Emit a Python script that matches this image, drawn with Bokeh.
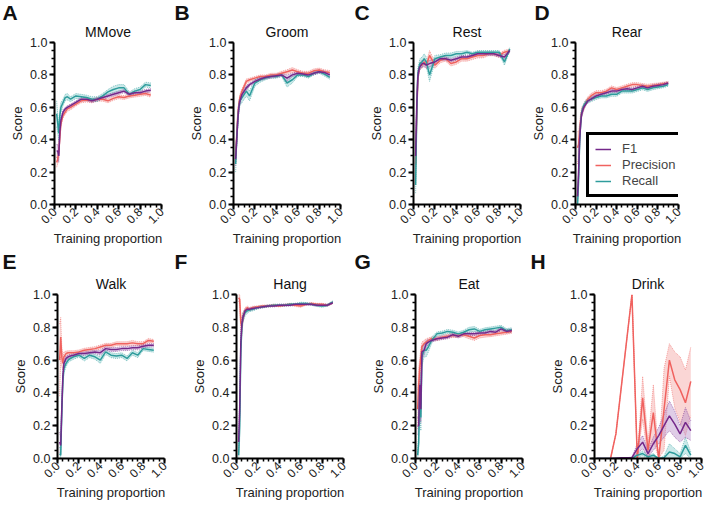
import math
from bokeh.plotting import figure
from bokeh.layouts import row, column
from bokeh.models import Title, Legend, LegendItem, Range1d, FixedTicker, PrintfTickFormatter
from bokeh.embed import file_html
from bokeh.resources import INLINE

FONT = "Liberation Sans"
C_F1, C_PR, C_RC = "#74288A", "#F0625F", "#2E9C9C"
B_F1, B_PR, B_RC = "#B990CA", "#F5A3A1", "#8CCFCF"

MAJOR_TICKS = [0.0, 0.2, 0.4, 0.6, 0.8, 1.0]
MINOR_TICKS = [0.0, 0.05, 0.1, 0.15, 0.2, 0.25, 0.3, 0.35, 0.4, 0.45, 0.5,
               0.55, 0.6, 0.65, 0.7, 0.75, 0.8, 0.85, 0.9, 0.95, 1.0]

X = [0.02, 0.03, 0.04, 0.05, 0.06, 0.08, 0.10, 0.12, 0.15, 0.20, 0.25, 0.30,
     0.35, 0.40, 0.45, 0.50, 0.55, 0.60, 0.65, 0.70, 0.75, 0.80, 0.85, 0.90]

MMOVE_F1 = [0.33, 0.33, 0.30, 0.45, 0.52, 0.57, 0.59, 0.60, 0.61, 0.63, 0.65, 0.65, 0.64, 0.65, 0.66, 0.67, 0.68, 0.69, 0.70, 0.68, 0.69, 0.69, 0.70, 0.705]
MMOVE_F1_E = [0.04, 0.04, 0.04, 0.03, 0.02, 0.015, 0.01, 0.01, 0.01, 0.01, 0.01, 0.01, 0.01, 0.01, 0.01, 0.01, 0.01, 0.01, 0.01, 0.01, 0.01, 0.01, 0.01, 0.01]
MMOVE_PR = [0.26, 0.28, 0.32, 0.42, 0.50, 0.55, 0.57, 0.59, 0.60, 0.62, 0.64, 0.645, 0.64, 0.65, 0.65, 0.64, 0.655, 0.665, 0.66, 0.67, 0.675, 0.68, 0.685, 0.675]
MMOVE_PR_E = [0.03, 0.03, 0.03, 0.03, 0.02, 0.015, 0.015, 0.015, 0.015, 0.012, 0.012, 0.012, 0.012, 0.012, 0.012, 0.012, 0.012, 0.012, 0.012, 0.012, 0.012, 0.012, 0.012, 0.012]
MMOVE_RC = [0.56, 0.50, 0.44, 0.55, 0.60, 0.63, 0.66, 0.665, 0.65, 0.67, 0.665, 0.66, 0.65, 0.65, 0.67, 0.695, 0.71, 0.72, 0.72, 0.68, 0.70, 0.71, 0.74, 0.735]
MMOVE_RC_E = [0.08, 0.06, 0.05, 0.04, 0.03, 0.02, 0.02, 0.02, 0.015, 0.015, 0.015, 0.015, 0.015, 0.015, 0.015, 0.015, 0.02, 0.02, 0.02, 0.015, 0.015, 0.015, 0.015, 0.015]

GROOM_F1 = [0.28, 0.40, 0.52, 0.60, 0.64, 0.68, 0.70, 0.72, 0.74, 0.76, 0.775, 0.785, 0.79, 0.795, 0.80, 0.78, 0.80, 0.81, 0.805, 0.80, 0.81, 0.82, 0.815, 0.80]
GROOM_F1_E = [0.04, 0.03, 0.03, 0.02, 0.02, 0.015, 0.015, 0.015, 0.01, 0.01, 0.01, 0.01, 0.01, 0.01, 0.01, 0.02, 0.01, 0.01, 0.01, 0.01, 0.01, 0.01, 0.01, 0.01]
GROOM_PR = [0.30, 0.42, 0.55, 0.62, 0.66, 0.70, 0.73, 0.76, 0.77, 0.78, 0.79, 0.79, 0.80, 0.80, 0.81, 0.82, 0.83, 0.82, 0.81, 0.81, 0.825, 0.83, 0.82, 0.815]
GROOM_PR_E = [0.04, 0.03, 0.03, 0.02, 0.02, 0.015, 0.015, 0.015, 0.01, 0.01, 0.01, 0.01, 0.01, 0.01, 0.012, 0.012, 0.015, 0.012, 0.012, 0.012, 0.012, 0.012, 0.012, 0.012]
GROOM_RC = [0.25, 0.40, 0.52, 0.60, 0.64, 0.66, 0.68, 0.70, 0.67, 0.75, 0.77, 0.78, 0.79, 0.79, 0.80, 0.75, 0.77, 0.80, 0.80, 0.79, 0.81, 0.82, 0.805, 0.785]
GROOM_RC_E = [0.05, 0.04, 0.04, 0.03, 0.03, 0.03, 0.03, 0.03, 0.03, 0.02, 0.015, 0.01, 0.01, 0.01, 0.01, 0.025, 0.02, 0.01, 0.01, 0.01, 0.01, 0.01, 0.012, 0.012]

REST_F1 = [0.30, 0.60, 0.78, 0.83, 0.85, 0.87, 0.87, 0.86, 0.87, 0.88, 0.90, 0.90, 0.89, 0.90, 0.91, 0.91, 0.92, 0.93, 0.93, 0.93, 0.93, 0.92, 0.91, 0.95]
REST_F1_E = [0.06, 0.05, 0.03, 0.02, 0.02, 0.02, 0.02, 0.02, 0.02, 0.015, 0.01, 0.01, 0.01, 0.01, 0.01, 0.01, 0.01, 0.01, 0.01, 0.01, 0.01, 0.01, 0.015, 0.01]
REST_PR = [0.25, 0.55, 0.76, 0.83, 0.86, 0.86, 0.88, 0.86, 0.92, 0.86, 0.89, 0.90, 0.87, 0.88, 0.90, 0.90, 0.91, 0.92, 0.92, 0.93, 0.93, 0.92, 0.94, 0.95]
REST_PR_E = [0.06, 0.05, 0.03, 0.02, 0.02, 0.02, 0.02, 0.02, 0.03, 0.02, 0.015, 0.015, 0.015, 0.015, 0.015, 0.015, 0.015, 0.015, 0.015, 0.012, 0.012, 0.012, 0.012, 0.01]
REST_RC = [0.12, 0.55, 0.80, 0.84, 0.87, 0.88, 0.90, 0.88, 0.80, 0.90, 0.91, 0.92, 0.92, 0.93, 0.93, 0.94, 0.93, 0.94, 0.94, 0.94, 0.94, 0.94, 0.88, 0.96]
REST_RC_E = [0.05, 0.06, 0.04, 0.03, 0.03, 0.03, 0.03, 0.03, 0.04, 0.02, 0.015, 0.015, 0.015, 0.015, 0.015, 0.01, 0.01, 0.01, 0.01, 0.01, 0.01, 0.01, 0.02, 0.01]

REAR_F1 = [0.05, 0.20, 0.40, 0.50, 0.56, 0.60, 0.62, 0.64, 0.65, 0.67, 0.68, 0.69, 0.70, 0.70, 0.71, 0.715, 0.71, 0.72, 0.73, 0.72, 0.73, 0.735, 0.74, 0.75]
REAR_F1_E = [0.03, 0.04, 0.04, 0.03, 0.02, 0.015, 0.01, 0.01, 0.01, 0.01, 0.01, 0.01, 0.01, 0.01, 0.01, 0.01, 0.01, 0.01, 0.01, 0.01, 0.01, 0.01, 0.01, 0.008]
REAR_PR = [0.35, 0.37, 0.45, 0.52, 0.57, 0.60, 0.63, 0.65, 0.67, 0.69, 0.69, 0.70, 0.72, 0.71, 0.72, 0.73, 0.74, 0.74, 0.735, 0.73, 0.735, 0.74, 0.745, 0.75]
REAR_PR_E = [0.10, 0.08, 0.05, 0.04, 0.03, 0.02, 0.015, 0.015, 0.015, 0.012, 0.012, 0.012, 0.012, 0.012, 0.012, 0.012, 0.012, 0.012, 0.012, 0.012, 0.012, 0.01, 0.01, 0.01]
REAR_RC = [0.00, 0.15, 0.38, 0.50, 0.57, 0.61, 0.63, 0.64, 0.65, 0.66, 0.67, 0.67, 0.68, 0.68, 0.70, 0.70, 0.70, 0.71, 0.72, 0.71, 0.72, 0.725, 0.73, 0.74]
REAR_RC_E = [0.02, 0.05, 0.05, 0.03, 0.02, 0.015, 0.015, 0.015, 0.015, 0.012, 0.012, 0.012, 0.012, 0.012, 0.012, 0.012, 0.012, 0.012, 0.012, 0.012, 0.012, 0.01, 0.01, 0.01]

WALK_F1 = [0.10, 0.08, 0.30, 0.50, 0.58, 0.61, 0.62, 0.625, 0.63, 0.64, 0.64, 0.645, 0.65, 0.645, 0.67, 0.665, 0.665, 0.67, 0.67, 0.675, 0.675, 0.685, 0.69, 0.69]
WALK_F1_E = [0.06, 0.05, 0.05, 0.03, 0.02, 0.015, 0.01, 0.01, 0.01, 0.01, 0.01, 0.01, 0.01, 0.015, 0.012, 0.012, 0.012, 0.012, 0.012, 0.012, 0.012, 0.01, 0.01, 0.01]
WALK_PR = [0.60, 0.74, 0.62, 0.58, 0.62, 0.64, 0.645, 0.645, 0.645, 0.65, 0.66, 0.665, 0.67, 0.68, 0.69, 0.69, 0.70, 0.70, 0.70, 0.705, 0.70, 0.70, 0.72, 0.715]
WALK_PR_E = [0.22, 0.12, 0.06, 0.04, 0.03, 0.015, 0.012, 0.012, 0.012, 0.012, 0.012, 0.012, 0.012, 0.012, 0.012, 0.012, 0.012, 0.012, 0.012, 0.015, 0.012, 0.012, 0.012, 0.01]
WALK_RC = [0.03, 0.02, 0.28, 0.47, 0.55, 0.58, 0.60, 0.61, 0.62, 0.63, 0.61, 0.63, 0.62, 0.60, 0.65, 0.63, 0.625, 0.63, 0.61, 0.645, 0.63, 0.67, 0.665, 0.66]
WALK_RC_E = [0.04, 0.03, 0.05, 0.04, 0.03, 0.02, 0.015, 0.015, 0.015, 0.012, 0.015, 0.015, 0.015, 0.02, 0.015, 0.015, 0.015, 0.015, 0.015, 0.015, 0.015, 0.012, 0.012, 0.012]

HANG_F1 = [0.10, 0.30, 0.70, 0.82, 0.86, 0.90, 0.91, 0.91, 0.915, 0.92, 0.925, 0.93, 0.93, 0.935, 0.935, 0.935, 0.94, 0.94, 0.94, 0.94, 0.935, 0.935, 0.935, 0.95]
HANG_F1_E = [0.05, 0.08, 0.06, 0.03, 0.02, 0.01, 0.01, 0.008, 0.008, 0.006, 0.006, 0.006, 0.006, 0.006, 0.006, 0.006, 0.006, 0.006, 0.006, 0.006, 0.006, 0.006, 0.006, 0.006]
HANG_PR = [0.98, 0.97, 0.83, 0.80, 0.86, 0.90, 0.92, 0.91, 0.92, 0.925, 0.93, 0.93, 0.935, 0.93, 0.935, 0.94, 0.935, 0.93, 0.94, 0.945, 0.94, 0.94, 0.935, 0.95]
HANG_PR_E = [0.02, 0.03, 0.05, 0.05, 0.03, 0.02, 0.01, 0.01, 0.008, 0.006, 0.006, 0.006, 0.006, 0.006, 0.006, 0.006, 0.008, 0.008, 0.006, 0.006, 0.006, 0.006, 0.006, 0.006]
HANG_RC = [0.02, 0.20, 0.65, 0.80, 0.86, 0.89, 0.90, 0.905, 0.91, 0.92, 0.925, 0.93, 0.935, 0.935, 0.935, 0.94, 0.94, 0.945, 0.945, 0.94, 0.935, 0.93, 0.935, 0.955]
HANG_RC_E = [0.02, 0.08, 0.07, 0.04, 0.03, 0.02, 0.015, 0.01, 0.01, 0.008, 0.006, 0.006, 0.006, 0.006, 0.006, 0.006, 0.006, 0.008, 0.006, 0.006, 0.008, 0.008, 0.006, 0.006]

EAT_F1 = [0.20, 0.20, 0.45, 0.30, 0.65, 0.66, 0.70, 0.71, 0.72, 0.73, 0.735, 0.74, 0.755, 0.745, 0.76, 0.76, 0.76, 0.765, 0.765, 0.775, 0.77, 0.79, 0.775, 0.78]
EAT_F1_E = [0.05, 0.06, 0.08, 0.08, 0.04, 0.03, 0.02, 0.015, 0.01, 0.01, 0.01, 0.01, 0.01, 0.01, 0.01, 0.01, 0.01, 0.01, 0.01, 0.01, 0.01, 0.01, 0.01, 0.01]
EAT_PR = [0.30, 0.45, 0.55, 0.62, 0.68, 0.70, 0.71, 0.72, 0.73, 0.73, 0.74, 0.745, 0.75, 0.75, 0.755, 0.745, 0.735, 0.75, 0.755, 0.755, 0.76, 0.765, 0.77, 0.775]
EAT_PR_E = [0.12, 0.10, 0.06, 0.05, 0.03, 0.02, 0.02, 0.015, 0.012, 0.012, 0.012, 0.012, 0.012, 0.012, 0.012, 0.015, 0.015, 0.015, 0.015, 0.012, 0.012, 0.012, 0.012, 0.012]
EAT_RC = [0.02, 0.10, 0.45, 0.25, 0.62, 0.66, 0.66, 0.68, 0.72, 0.76, 0.765, 0.775, 0.77, 0.76, 0.77, 0.785, 0.79, 0.775, 0.785, 0.79, 0.795, 0.80, 0.78, 0.785]
EAT_RC_E = [0.02, 0.06, 0.08, 0.08, 0.06, 0.04, 0.04, 0.03, 0.02, 0.012, 0.012, 0.012, 0.012, 0.012, 0.012, 0.015, 0.015, 0.012, 0.012, 0.012, 0.012, 0.012, 0.012, 0.012]

DRINK_F1 = [0.0, 0.0, 0.0, 0.0, 0.0, 0.0, 0.0, 0.0, 0.0, 0.002, 0.004, 0.005, 0.006, 0.06, 0.10, 0.03, 0.09, 0.14, 0.20, 0.26, 0.21, 0.15, 0.22, 0.17]
DRINK_F1_E = [0.0, 0.0, 0.0, 0.0, 0.0, 0.0, 0.0, 0.0, 0.0, 0.0, 0.0, 0.0, 0.003, 0.03, 0.04, 0.02, 0.04, 0.05, 0.07, 0.09, 0.08, 0.05, 0.09, 0.06]
DRINK_RC = [0.0, 0.0, 0.0, 0.0, 0.0, 0.0, 0.0, 0.0, 0.0, 0.0, 0.0, 0.0, 0.0, 0.02, 0.03, 0.01, 0.02, 0.0, 0.005, 0.04, 0.03, 0.01, 0.08, 0.02]
DRINK_RC_E = [0.0, 0.0, 0.0, 0.0, 0.0, 0.0, 0.0, 0.0, 0.0, 0.0, 0.0, 0.0, 0.0, 0.01, 0.015, 0.01, 0.01, 0.0, 0.01, 0.05, 0.03, 0.02, 0.05, 0.02]
DRINK_PR_X = [0.15, 0.20, 0.35, 0.40, 0.45, 0.50, 0.55, 0.60, 0.65, 0.70, 0.75, 0.80, 0.85, 0.90]
DRINK_PR = [0.0, 0.15, 1.0, 0.0, 0.37, 0.05, 0.28, 0.0, 0.30, 0.60, 0.48, 0.42, 0.34, 0.47]
DRINK_PR_E = [0.0, 0.0, 0.0, 0.0, 0.13, 0.05, 0.17, 0.0, 0.25, 0.10, 0.17, 0.20, 0.20, 0.21]


def bounds(m, e):
    lo = [max(0.0, a - b) for a, b in zip(m, e)]
    hi = [min(1.0, a + b) for a, b in zip(m, e)]
    return lo, hi


def make_panel(letter, name, series, W, H, L, R, T, B, name_gap, letter_gap, legend=False):
    p = figure(width=W, height=H, x_range=Range1d(0, 1), y_range=Range1d(0, 1),
               output_backend="svg", toolbar_location=None, title=None,
               min_border_left=L, min_border_right=R, min_border_top=T, min_border_bottom=B)
    p.outline_line_color = None
    p.xgrid.visible = False
    p.ygrid.visible = False
    p.background_fill_color = "white"
    p.border_fill_color = "white"

    for xs, m, e, lc, bc in series:
        lo, hi = bounds(m, e)
        p.varea(x=xs, y1=lo, y2=hi, fill_color=bc, fill_alpha=0.45)
        p.line(xs, lo, line_color=lc, line_alpha=0.55, line_width=1, line_dash="1 1")
        p.line(xs, hi, line_color=lc, line_alpha=0.55, line_width=1, line_dash="1 1")
    rends = []
    for xs, m, e, lc, bc in series:
        rends.append(p.line(xs, m, line_color=lc, line_width=1.5))

    for ax in (p.xaxis[0], p.yaxis[0]):
        ax.ticker = FixedTicker(ticks=MAJOR_TICKS, minor_ticks=MINOR_TICKS)
        ax.formatter = PrintfTickFormatter(format="%.1f")
        ax.axis_line_width = 2
        ax.axis_line_color = "black"
        ax.major_tick_line_width = 2
        ax.major_tick_line_color = "black"
        ax.major_tick_in = 0
        ax.major_tick_out = 5
        ax.minor_tick_line_width = 1.5
        ax.minor_tick_line_color = "black"
        ax.minor_tick_in = 0
        ax.minor_tick_out = 3
        ax.major_label_text_font = FONT
        ax.major_label_text_color = "#222222"
        ax.axis_label_text_font = FONT
        ax.axis_label_text_font_size = "13px"
        ax.axis_label_text_font_style = "normal"
        ax.axis_label_text_color = "#222222"
    p.yaxis.major_label_standoff = 2
    p.yaxis.axis_label_standoff = 2
    p.xaxis.major_label_standoff = 0
    p.xaxis.axis_label_standoff = 0
    p.yaxis.major_label_text_font_size = "12.5px"
    p.xaxis.major_label_text_font_size = "12px"
    p.xaxis.axis_label = "Training proportion"
    p.yaxis.axis_label = "Score"
    p.xaxis.major_label_orientation = math.pi / 4

    p.add_layout(Title(text=name, align="center", text_font=FONT, text_font_size="14px",
                       text_font_style="normal", text_color="#111111", standoff=name_gap), "above")
    p.add_layout(Title(text=letter, align="left", offset=-L + 2, text_font=FONT, text_font_size="21px",
                       text_font_style="bold", text_color="#111111", standoff=letter_gap), "above")

    if legend:
        leg = Legend(items=[LegendItem(label="F1", renderers=[rends[2]]),
                            LegendItem(label="Precision", renderers=[rends[0]]),
                            LegendItem(label="Recall", renderers=[rends[1]])],
                     location=(11, 7), border_line_color="black", border_line_width=3,
                     border_line_alpha=1.0,
                     background_fill_color="white", background_fill_alpha=1.0,
                     label_text_font=FONT, label_text_font_size="13px",
                     glyph_width=16, glyph_height=14, label_height=14, label_standoff=11,
                     spacing=1, padding=6, margin=0)
        p.add_layout(leg, "center")
    return p


def trio(xs, f1, f1e, pr, pre, rc, rce, prx=None):
    return [(prx if prx is not None else xs, pr, pre, C_PR, B_PR),
            (xs, rc, rce, C_RC, B_RC),
            (xs, f1, f1e, C_F1, B_F1)]


H1, T1, B1 = 248, 42, 42
H2, T2, B2 = 256, 46, 46

pa = make_panel("A", "MMove", trio(X, MMOVE_F1, MMOVE_F1_E, MMOVE_PR, MMOVE_PR_E, MMOVE_RC, MMOVE_RC_E), 172, H1, 54, 11, T1, B1, 5, -8)
pb = make_panel("B", "Groom", trio(X, GROOM_F1, GROOM_F1_E, GROOM_PR, GROOM_PR_E, GROOM_RC, GROOM_RC_E), 180, H1, 61, 12, T1, B1, 5, -8)
pc = make_panel("C", "Rest", trio(X, REST_F1, REST_F1_E, REST_PR, REST_PR_E, REST_RC, REST_RC_E), 176, H1, 61, 8, T1, B1, 5, -8)
pd = make_panel("D", "Rear", trio(X, REAR_F1, REAR_F1_E, REAR_PR, REAR_PR_E, REAR_RC, REAR_RC_E), 178, H1, 43, 28, T1, B1, 5, -8, legend=True)

pe = make_panel("E", "Walk", trio(X, WALK_F1, WALK_F1_E, WALK_PR, WALK_PR_E, WALK_RC, WALK_RC_E), 172, H2, 57, 8, T2, B2, 5, -3)
pf = make_panel("F", "Hang", trio(X, HANG_F1, HANG_F1_E, HANG_PR, HANG_PR_E, HANG_RC, HANG_RC_E), 180, H2, 64, 9, T2, B2, 5, -3)
pg = make_panel("G", "Eat", trio(X, EAT_F1, EAT_F1_E, EAT_PR, EAT_PR_E, EAT_RC, EAT_RC_E), 176, H2, 63, 6, T2, B2, 5, -3)
ph = make_panel("H", "Drink", trio(X, DRINK_F1, DRINK_F1_E, DRINK_PR, DRINK_PR_E, DRINK_RC, DRINK_RC_E, prx=DRINK_PR_X), 178, H2, 66, 5, T2, B2, 5, -3)

layout = column(row(pa, pb, pc, pd, spacing=0), row(pe, pf, pg, ph, spacing=0), spacing=0)

open("out.html", "w").write(file_html(layout, INLINE))
